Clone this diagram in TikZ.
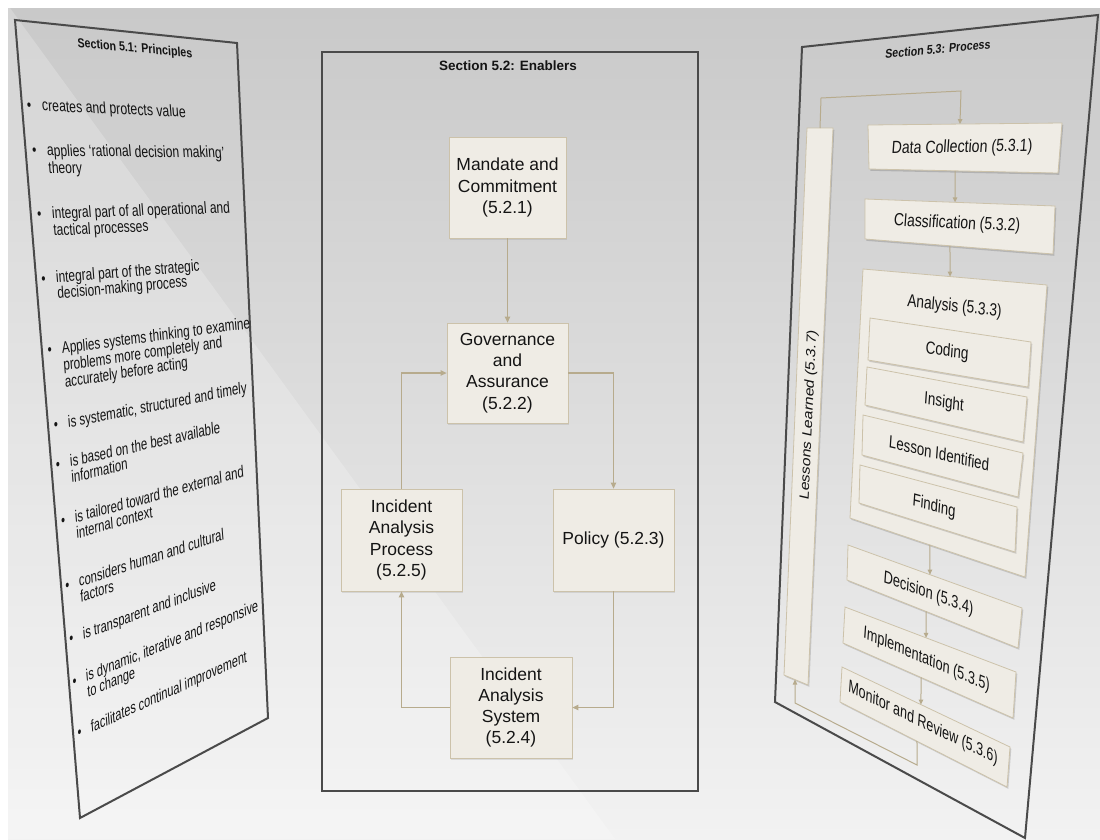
\documentclass[tikz,border=0pt]{standalone}
\usepackage{fontspec}
\usepackage{graphicx}
\setmainfont{Liberation Sans}
\usetikzlibrary{arrows.meta,shadows,calc}

\definecolor{boxfill}{HTML}{EFECE5}
\definecolor{boxline}{HTML}{CCC2AA}
\definecolor{linkc}{HTML}{B7AB8D}
\definecolor{framec}{HTML}{4A4A4A}
\definecolor{bgtop}{HTML}{C9C9C9}
\definecolor{bgbot}{HTML}{F2F2F2}
\definecolor{txt}{HTML}{141414}

% ---- tilted panels: a flat W x H sheet seen as the quad A(nw) B(ne) C(se) D(sw)
\newcommand\setquad[8]{\def\qAx{#1}\def\qAy{#2}\def\qBx{#3}\def\qBy{#4}%
  \def\qCx{#5}\def\qCy{#6}\def\qDx{#7}\def\qDy{#8}}
\newcommand\setflat[2]{\def\qW{#1}\def\qH{#2}}
\newcommand\quadstep[2]{%
  \pgfmathsetmacro\qv{(#2-\qAy-\qu*(\qBy-\qAy))/(\qDy-\qAy+\qu*(\qCy-\qDy-\qBy+\qAy))}%
  \pgfmathsetmacro\qu{(#1-\qAx-\qv*(\qDx-\qAx))/(\qBx-\qAx+\qv*(\qCx-\qBx-\qDx+\qAx))}}
\newcommand\quadlocate[2]{%
  \pgfmathsetmacro\qu{(#1-\qAx)/(\qBx-\qAx)}%
  \quadstep{#1}{#2}\quadstep{#1}{#2}\quadstep{#1}{#2}\quadstep{#1}{#2}}
\newcommand\quadframe{%
  \pgfmathsetmacro\qa{((1-\qv)*(\qBx-\qAx)+\qv*(\qCx-\qDx))/\qW}%
  \pgfmathsetmacro\qb{-((1-\qv)*(\qBy-\qAy)+\qv*(\qCy-\qDy))/\qW}%
  \pgfmathsetmacro\qc{-((1-\qu)*(\qDx-\qAx)+\qu*(\qCx-\qBx))/\qH}%
  \pgfmathsetmacro\qd{((1-\qu)*(\qDy-\qAy)+\qu*(\qCy-\qBy))/\qH}}
% text lying on the current panel
\newcommand\ontext[5]{%
  \quadlocate{#2}{#3}\quadframe
  \node[#4,cm={\qa,\qb,\qc,\qd,(0,0)}] (#1) at (#2,#3) {#5};}
% box lying on the current panel, given by its four corners
\newcommand\quadbox[9]{%
  \coordinate (#1-nw) at (#2,#3);
  \coordinate (#1-ne) at (#4,#5);
  \coordinate (#1-se) at (#6,#7);
  \coordinate (#1-sw) at (#8,#9);
  \fill[black,opacity=0.15] ([shift={(1.3,1.8)}]#1-nw) -- ([shift={(1.3,1.8)}]#1-ne)
     -- ([shift={(1.3,1.8)}]#1-se) -- ([shift={(1.3,1.8)}]#1-sw) -- cycle;
  \filldraw[qbox] (#1-nw) -- (#1-ne) -- (#1-se) -- (#1-sw) -- cycle;}

\tikzset{
  frame/.style={draw=framec,line width=2pt,line join=miter},
  qbox/.style={fill=boxfill,draw=boxline,line width=0.8pt},
  mbox/.style={draw=boxline,fill=boxfill,line width=0.8pt,inner sep=0pt,align=center,
    text=txt,font=\fontsize{17.5}{21.3}\selectfont,
    drop shadow={shadow xshift=1.3pt,shadow yshift=-1.8pt,opacity=0.2}},
  link/.style={draw=linkc,line width=1.1pt,-{Triangle[length=6pt,width=5.5pt]}},
  rlink/.style={draw=linkc,line width=1pt,-{Triangle[length=5pt,width=4.5pt]}},
  ttl/.style={inner sep=0pt,text=txt,font=\bfseries\fontsize{10.7}{13}\selectfont},
  ltxt/.style={anchor=west,inner sep=0pt,text height=9pt,text depth=3pt,text=txt,
    font=\fontsize{12.45}{14.2}\selectfont},
  rtxt/.style={inner sep=0pt,text height=10.5pt,text depth=3pt,text=txt,
    font=\fontsize{14.5}{17}\selectfont},
  vtxt/.style={inner sep=0pt,text=txt,font=\fontsize{14.5}{17}\selectfont},
}
\newcommand\bul{\llap{\textbullet\hspace{11pt}}}

\begin{document}
\begin{tikzpicture}[x=1pt,y=-1pt]
\useasboundingbox (0,0) rectangle (1100,839);

% backdrop
\fill[white] (0,0) rectangle (1100,839);
\shade[top color=bgtop,bottom color=bgbot] (8,8) rectangle (1100,839);
\fill[white,opacity=0.22] (8,8) -- (10,8) -- (615,839) -- (8,839) -- cycle;

% ================= Section 5.1 =================
\setquad{15}{20}{237}{43}{268}{718}{80}{818}
\setflat{222}{600}
\draw[frame] (15,20) -- (237,43) -- (268,718) -- (80,818) -- cycle;
\ontext{p-title}{135}{49}{ttl}{Section 5.1: Principles}
\ontext{p1}{42}{107}{ltxt}{\bul creates and protects value}
\ontext{p2a}{47}{152}{ltxt}{\bul applies ‘rational decision making’}
\ontext{p2b}{48.4}{170}{ltxt}{theory}
\ontext{p3a}{52}{215}{ltxt}{\bul integral part of all operational and}
\ontext{p3b}{53.4}{232}{ltxt}{tactical processes}
\ontext{p4a}{56}{279}{ltxt}{\bul integral part of the strategic}
\ontext{p4b}{57.4}{295}{ltxt}{decision-making process}
\ontext{p5a}{62}{350}{ltxt}{\bul Applies systems thinking to examine}
\ontext{p5b}{63.4}{367}{ltxt}{problems more completely and}
\ontext{p5c}{64.8}{384}{ltxt}{accurately before acting}
\ontext{p6}{68}{424}{ltxt}{\bul is systematic, structured and timely}
\ontext{p7a}{70}{463}{ltxt}{\bul is based on the best available}
\ontext{p7b}{71.4}{479}{ltxt}{information}
\ontext{p8a}{75}{519}{ltxt}{\bul is tailored toward the external and}
\ontext{p8b}{76.4}{535}{ltxt}{internal context}
\ontext{p9a}{79}{583}{ltxt}{\bul considers human and cultural}
\ontext{p9b}{80.4}{599}{ltxt}{factors}
\ontext{p10}{83}{636}{ltxt}{\bul is transparent and inclusive}
\ontext{p11a}{86}{678}{ltxt}{\bul is dynamic, iterative and responsive}
\ontext{p11b}{87.4}{694}{ltxt}{to change}
\ontext{p12}{91}{729}{ltxt}{\bul facilitates continual improvement}

% ================= Section 5.2 =================
\draw[frame,line width=2.2pt] (322,52) rectangle (698,791);
\node[inner sep=0pt,text=txt,font=\bfseries\fontsize{13.5}{16}\selectfont] (e-title) at (508,66) {Section 5.2: Enablers};
\node[mbox,minimum width=117pt,minimum height=101pt] (mc) at (507.5,187.5) {Mandate and\\Commitment\\(5.2.1)};
\node[mbox,minimum width=121pt,minimum height=100pt] (ga) at (507.5,373) {Governance\\and\\Assurance\\(5.2.2)};
\node[mbox,minimum width=121pt,minimum height=102pt] (iap) at (401.5,540) {Incident\\Analysis\\Process\\(5.2.5)};
\node[mbox,minimum width=121pt,minimum height=102pt] (po) at (613.5,540) {Policy (5.2.3)};
\node[mbox,minimum width=122pt,minimum height=101pt] (ias) at (511,707.5) {Incident\\Analysis\\System\\(5.2.4)};
\draw[link] (mc.south) -- (ga.north);
\draw[link] (ga.east) -| (po.north);
\draw[link] (po.south) |- (ias.east);
\draw[link] (ias.west) -| (iap.south);
\draw[link] (iap.north) |- (ga.west);

% ================= Section 5.3 =================
\setquad{802}{47}{1098}{15}{1025}{838}{775}{702}
\setflat{296}{620}
\draw[frame] (802,47) -- (1098,15) -- (1025,838) -- (775,702) -- cycle;
\ontext{r-title}{938}{49}{ttl}{Section 5.3: Process}

\quadbox{ll}{807}{128}{833}{128}{808}{685}{784}{675}
\quadbox{dc}{868}{125}{1062}{123}{1058}{173}{869}{169}
\quadbox{cl}{865}{199}{1055}{206}{1053}{254}{865}{239}
\quadbox{an}{863}{269}{1047}{285}{1025}{577}{850}{518}
\quadbox{cd}{870}{318}{1031}{342}{1028}{387}{868}{360}
\quadbox{ins}{867}{367}{1027}{397}{1023}{442}{865}{405}
\quadbox{li}{863}{415}{1023}{453}{1018}{497}{862}{455}
\quadbox{fi}{860}{465}{1017}{507}{1015}{552}{859}{503}
\quadbox{de}{848}{545}{1022}{608}{1018}{648}{847}{580}
\quadbox{im}{845}{607}{1016}{672}{1013}{718}{843}{643}
\quadbox{mo}{842}{667}{1010}{747}{1007}{787}{840}{702}

\ontext{t-ll}{809}{415}{vtxt}{\rotatebox{90}{Lessons Learned (5.3.7)}}
\ontext{t-dc}{962}{148}{rtxt}{Data Collection (5.3.1)}
\ontext{t-cl}{957}{224}{rtxt}{Classification (5.3.2)}
\ontext{t-an}{954.5}{307}{rtxt}{Analysis (5.3.3)}
\ontext{t-cd}{947}{352}{rtxt}{Coding}
\ontext{t-ins}{944}{403}{rtxt}{Insight}
\ontext{t-li}{939}{455}{rtxt}{Lesson Identified}
\ontext{t-fi}{934}{507}{rtxt}{Finding}
\ontext{t-de}{928.5}{594}{rtxt}{Decision (5.3.4)}
\ontext{t-im}{926.5}{660}{rtxt}{Implementation (5.3.5)}
\ontext{t-mo}{923}{723.5}{rtxt}{Monitor and Review (5.3.6)}

% connector end points on the box edges
\coordinate (ll-n) at ($(ll-nw)!0.5!(ll-ne)$);
\coordinate (ll-s) at ($(ll-sw)!0.458!(ll-se)$);
\coordinate (dc-n) at ($(dc-nw)!0.474!(dc-ne)$);
\coordinate (dc-s) at ($(dc-sw)!0.455!(dc-se)$);
\coordinate (cl-n) at ($(cl-nw)!0.474!(cl-ne)$);
\coordinate (cl-s) at ($(cl-sw)!0.452!(cl-se)$);
\coordinate (an-n) at ($(an-nw)!0.473!(an-ne)$);
\coordinate (an-s) at ($(an-sw)!0.457!(an-se)$);
\coordinate (de-n) at ($(de-nw)!0.471!(de-ne)$);
\coordinate (de-s) at ($(de-sw)!0.462!(de-se)$);
\coordinate (im-n) at ($(im-nw)!0.474!(im-ne)$);
\coordinate (im-s) at ($(im-sw)!0.459!(im-se)$);
\coordinate (mo-n) at ($(mo-nw)!0.470!(mo-ne)$);
\coordinate (mo-s) at ($(mo-sw)!0.461!(mo-se)$);
\coordinate (up1) at (821,98);
\coordinate (up2) at (961,91);
\coordinate (dn1) at (917,765);
\coordinate (dn2) at (795,703);

\draw[rlink] (ll-n) -- (up1) -- (up2) -- (dc-n);
\draw[rlink] (dc-s) -- (cl-n);
\draw[rlink] (cl-s) -- (an-n);
\draw[rlink] (an-s) -- (de-n);
\draw[rlink] (de-s) -- (im-n);
\draw[rlink] (im-s) -- (mo-n);
\draw[rlink] (mo-s) -- (dn1) -- (dn2) -- (ll-s);
\end{tikzpicture}
\end{document}
